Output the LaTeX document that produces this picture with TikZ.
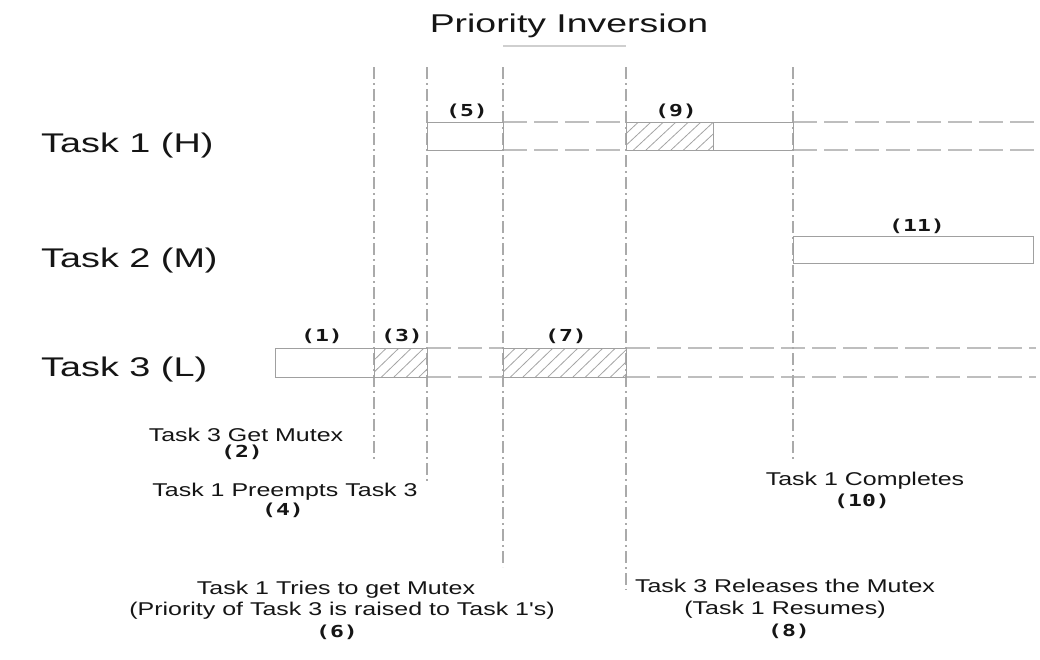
\documentclass[tikz,border=0pt]{standalone}
\usepackage{fontspec}
\newfontfamily\titlefont{Liberation Sans}[FakeStretch=1.455]
\newfontfamily\taskfont{Liberation Sans}[FakeStretch=1.4]
\newfontfamily\notefont{Liberation Sans}[FakeStretch=1.35]
\newfontfamily\numfont{DejaVu Sans Mono}[FakeStretch=1.4]
\definecolor{ink}{HTML}{151515}
\definecolor{guidegray}{HTML}{AAAAAA}
\definecolor{trackgray}{HTML}{BEBEBE}
\definecolor{boxgray}{HTML}{A0A0A0}
\definecolor{hatchgray}{HTML}{A4A4A4}
\definecolor{rulegray}{HTML}{CFCFCF}
\newcommand\hatchbox[4]{%
  \begin{scope}
    \clip (#1,#2) rectangle (#3,#4);
    \foreach \k in {0,...,14} {
      \draw[hatchline] ({#1-30+\k*12.5},#4) -- ({#1+\k*12.5},#2);
    }
  \end{scope}
  \draw[slot] (#1,#2) rectangle (#3,#4);}
\begin{document}
\begin{tikzpicture}[x=1pt,y=-1pt,
  guide/.style={draw=guidegray, line width=1.1pt, dash pattern=on 12pt off 4pt on 2pt off 4pt},
  track/.style={draw=trackgray, line width=1.1pt, dash pattern=on 24pt off 7pt},
  slot/.style={draw=boxgray, line width=0.95pt},
  hatchline/.style={draw=hatchgray, line width=0.8pt},
  tasklbl/.style={font=\taskfont\fontsize{27}{32}\selectfont, text=ink, inner sep=0pt, anchor=base west},
  note/.style={font=\notefont\fontsize{18.5}{22}\selectfont, text=ink, inner sep=0pt, anchor=base},
  num/.style={font=\numfont\bfseries\fontsize{16.5}{19}\selectfont, text=ink, inner sep=0pt}]
\useasboundingbox (0,0) rectangle (1040,659);
\fill[white] (0,0) rectangle (1040,659);

% title
\node[font=\titlefont\fontsize{25.7}{30}\selectfont, text=ink, inner sep=0pt, anchor=base] (title) at (569,32) {Priority Inversion};
\draw[rulegray, line width=1.6pt] (503,46) -- (626,46);

% task labels
\node[tasklbl] (t1) at (41,152) {Task 1 (H)};
\node[tasklbl] (t2) at (41,267) {Task 2 (M)};
\node[tasklbl] (t3) at (41,376) {Task 3 (L)};

% dashed tracks
\draw[track] (503,122) -- (626,122) (503,150) -- (626,150);
\draw[track] (793,122) -- (1036,122) (793,150) -- (1036,150);
\draw[track] (427,348) -- (503,348) (427,377) -- (503,377);
\draw[track] (626,348) -- (1036,348) (626,377) -- (1036,377);

% vertical guides
\draw[guide] (374,67) -- (374,460);
\draw[guide] (427,67) -- (427,484);
\draw[guide] (503,67) -- (503,567);
\draw[guide] (626,67) -- (626,590);
\draw[guide] (793,67) -- (793,460);

% Task 1 slots
\draw[slot] (427,122) rectangle (503,150);
\hatchbox{626}{122}{713}{150}
\draw[slot] (713,122) rectangle (793,150);
% Task 2 slot
\draw[slot] (793,236) rectangle (1033,263);
% Task 3 slots
\draw[slot] (275,348) rectangle (374,377);
\hatchbox{374}{348}{427}{377}
\hatchbox{503}{348}{626}{377}

% slot numbers
\node[num] (n5) at (467,111) {(5)};
\node[num] (n9) at (676,111) {(9)};
\node[num] (n11) at (917,226) {(11)};
\node[num] (n1) at (322,336) {(1)};
\node[num] (n3) at (402,336) {(3)};
\node[num] (n7) at (566,336) {(7)};

% event notes
\node[note] (e2) at (246,441) {Task 3 Get Mutex};
\node[num] (n2) at (242,452) {(2)};
\node[note] (e4) at (285,496) {Task 1 Preempts Task 3};
\node[num] (n4) at (283,510) {(4)};
\node[note] (e6a) at (336,594) {Task 1 Tries to get Mutex};
\node[note] (e6b) at (342,615) {(Priority of Task 3 is raised to Task 1's)};
\node[num] (n6) at (337,632) {(6)};
\node[note] (e8a) at (785,592) {Task 3 Releases the Mutex};
\node[note] (e8b) at (785,614) {(Task 1 Resumes)};
\node[num] (n8) at (789,631) {(8)};
\node[note] (e10) at (865,485) {Task 1 Completes};
\node[num] (n10) at (862,501) {(10)};
\end{tikzpicture}
\end{document}
